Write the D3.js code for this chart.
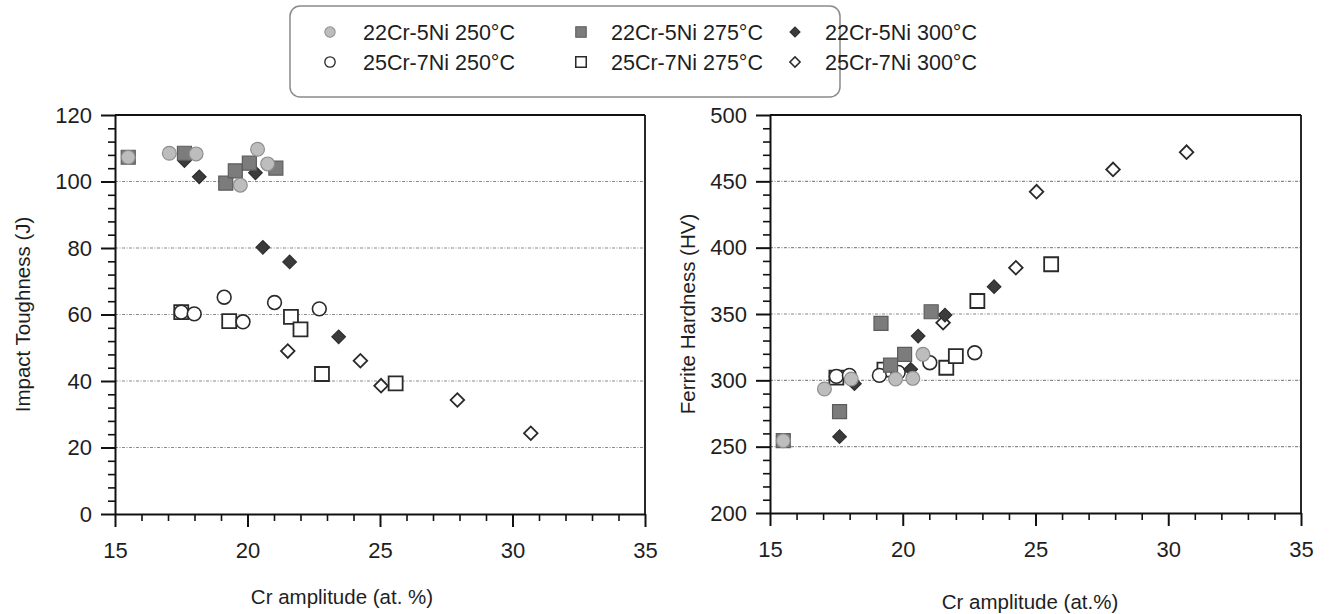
<!DOCTYPE html>
<html><head><meta charset="utf-8">
<script src="https://cdn.jsdelivr.net/npm/d3@7"></script>
<style>
body{margin:0;background:#fff}
text{font-family:"Liberation Sans",Arial,Helvetica,sans-serif;fill:#1e1e1e}
</style>
</head><body>
<svg id="chart" width="1329" height="614"></svg>
<script>
// ---------- data ----------
const seriesNames = ["22Cr-5Ni 250°C","22Cr-5Ni 275°C","22Cr-5Ni 300°C","25Cr-7Ni 250°C","25Cr-7Ni 275°C","25Cr-7Ni 300°C"];

const crA_22_250 = [15.5, 17.05, 18.06, 19.73, 20.38, 20.76];
const imp_22_250 = [107.3, 108.5, 108.3, 98.9, 109.7, 105.3];
const hv_22_250  = [254.5, 293.5, 301.0, 301.0, 301.5, 319.6];

const crA_22_275 = [15.5, 17.62, 19.18, 19.54, 20.07, 21.07];
const imp_22_275 = [107.3, 108.5, 99.5, 103.2, 105.5, 104.0];
const hv_22_275  = [254.5, 276.4, 343.0, 311.4, 319.6, 351.7];

const crA_22_300 = [17.62, 18.18, 20.30, 20.58, 21.59, 23.44];
const imp_22_300 = [106.3, 101.4, 102.6, 80.2, 75.8, 53.3];
const hv_22_300  = [257.5, 297.5, 308.3, 333.4, 349.2, 370.6];

const crA_25_250 = [17.5, 17.99, 19.12, 19.83, 21.02, 22.71];
const imp_25_250 = [60.7, 60.2, 65.2, 57.8, 63.6, 61.7];
const hv_25_250  = [303.0, 303.7, 303.7, 306.0, 313.3, 320.8];

const crA_25_275 = [17.5, 19.31, 21.64, 22.0, 22.81, 25.59];
const imp_25_275 = [60.7, 58.0, 59.3, 55.5, 42.1, 39.3];
const hv_25_275  = [302.0, 308.0, 309.5, 318.3, 359.8, 387.5];

const crA_25_300 = [21.52, 24.26, 25.04, 27.92, 30.69];
const imp_25_300 = [49.0, 46.1, 38.6, 34.3, 24.3];
const hv_25_300  = [343.4, 384.9, 442.2, 459.0, 472.0];

const xTicks = [15, 20, 25, 30, 35];
const yTicksImpact = [0, 20, 40, 60, 80, 100, 120];
const yTicksHardness = [200, 250, 300, 350, 400, 450, 500];

// ---------- styles ----------
const styles = [
  {shape:"circle", fill:"#bdbdbd", stroke:"#8e8e8e", sw:1.2},
  {shape:"square", fill:"#7c7c7c", stroke:"#5c5c5c", sw:1.2},
  {shape:"diamond", fill:"#3b3b3b", stroke:"#2e2e2e", sw:1.2},
  {shape:"circle", fill:"#ffffff", stroke:"#2a2a2a", sw:1.6},
  {shape:"square", fill:"#ffffff", stroke:"#2a2a2a", sw:1.8},
  {shape:"diamond", fill:"#ffffff", stroke:"#2a2a2a", sw:1.8}
];
const series = [
  {x:crA_22_250, a:imp_22_250, b:hv_22_250},
  {x:crA_22_275, a:imp_22_275, b:hv_22_275},
  {x:crA_22_300, a:imp_22_300, b:hv_22_300},
  {x:crA_25_250, a:imp_25_250, b:hv_25_250},
  {x:crA_25_275, a:imp_25_275, b:hv_25_275},
  {x:crA_25_300, a:imp_25_300, b:hv_25_300}
];
const drawOrder = [5,4,3,2,1,0];

function symPath(shape, scale){
  if(shape==="circle") return d3.symbol(d3.symbolCircle, Math.PI*6.9*6.9*scale*scale)();
  if(shape==="square") return d3.symbol(d3.symbolSquare, 14*14*scale*scale)();
  return d3.symbol(d3.symbolSquare, 9.6*9.6*scale*scale)();
}

const svg = d3.select("#chart");

function panel(cfg){
  const g = svg.append("g");
  const x = d3.scaleLinear().domain([15,35]).range([cfg.left, cfg.right]);
  const y = d3.scaleLinear().domain(cfg.ydom).range([cfg.bottom, cfg.top]);

  // gridlines
  g.append("g").selectAll("line").data(cfg.yticks.slice(1,-1)).join("line")
    .attr("x1", cfg.left).attr("x2", cfg.right)
    .attr("y1", d=>y(d)).attr("y2", d=>y(d))
    .attr("stroke","#8a8a8a").attr("stroke-width",1.1).attr("stroke-dasharray","3,1.5,1,1.5");

  // frame top/right
  g.append("line").attr("x1",cfg.left).attr("x2",cfg.right).attr("y1",cfg.top).attr("y2",cfg.top)
    .attr("stroke","#111").attr("stroke-width",1.8);
  g.append("line").attr("x1",cfg.right).attr("x2",cfg.right).attr("y1",cfg.top).attr("y2",cfg.bottom)
    .attr("stroke","#111").attr("stroke-width",1.8);

  // minor ticks
  const minorX = d3.range(15,35.01,1).filter(v=>v%5!==0);
  g.append("g").attr("transform",`translate(0,${cfg.bottom})`)
    .call(d3.axisBottom(x).tickValues(minorX).tickSize(7).tickFormat("").tickSizeOuter(0))
    .call(s=>s.select(".domain").remove())
    .call(s=>s.selectAll("line").attr("stroke","#111").attr("stroke-width",1.6));
  const step = (cfg.ydom[1]-cfg.ydom[0])/30;
  const minorY = d3.range(0,31).map(i=>cfg.ydom[0]+i*step).filter((v,i)=>i%5!==0);
  g.append("g").attr("transform",`translate(${cfg.left},0)`)
    .call(d3.axisLeft(y).tickValues(minorY).tickSize(7).tickFormat("").tickSizeOuter(0))
    .call(s=>s.select(".domain").remove())
    .call(s=>s.selectAll("line").attr("stroke","#111").attr("stroke-width",1.6));

  // major axes
  const ax = g.append("g").attr("transform",`translate(0,${cfg.bottom})`)
    .call(d3.axisBottom(x).tickValues(xTicks).tickSize(13).tickPadding(15).tickSizeOuter(0));
  ax.select(".domain").attr("stroke","#111").attr("stroke-width",2);
  ax.selectAll("line").attr("stroke","#111").attr("stroke-width",2);
  ax.selectAll("text").attr("font-size",22).attr("fill","#1e1e1e");

  const ay = g.append("g").attr("transform",`translate(${cfg.left},0)`)
    .call(d3.axisLeft(y).tickValues(cfg.yticks).tickSize(14).tickPadding(9).tickSizeOuter(0));
  ay.select(".domain").attr("stroke","#111").attr("stroke-width",2);
  ay.selectAll("line").attr("stroke","#111").attr("stroke-width",2);
  ay.selectAll("text").attr("font-size",22).attr("fill","#1e1e1e");

  // titles
  g.append("text").attr("x",cfg.xtX).attr("y",cfg.xtY).attr("text-anchor","middle")
    .attr("font-size",20.5).text(cfg.xtitle);
  g.append("text").attr("transform",`translate(${cfg.ytX},${(cfg.top+cfg.bottom)/2}) rotate(-90)`)
    .attr("text-anchor","middle").attr("dy","0.35em").attr("font-size",20.5).text(cfg.ytitle);

  // points
  drawOrder.forEach(si=>{
    const st = styles[si], s = series[si];
    const vals = s.x.map((xv,i)=>({x:xv, y:s[cfg.key][i]}));
    g.append("g").selectAll("path").data(vals).join("path")
      .attr("d", symPath(st.shape,1))
      .attr("transform", d=>`translate(${x(d.x)},${y(d.y)})${st.shape==="diamond"?" rotate(45)":""}`)
      .attr("fill", st.fill).attr("stroke", st.stroke).attr("stroke-width", st.sw);
  });
}

panel({left:115,right:645,top:115,bottom:514,ydom:[0,120],yticks:yTicksImpact,key:"a",
  xtitle:"Cr amplitude (at. %)", xtX:342, xtY:604, ytitle:"Impact Toughness (J)", ytX:23});
panel({left:770,right:1301,top:115,bottom:513,ydom:[200,500],yticks:yTicksHardness,key:"b",
  xtitle:"Cr amplitude (at.%)", xtX:1030, xtY:609, ytitle:"Ferrite Hardness (HV)", ytX:688});

// ---------- legend ----------
const lg = svg.append("g");
lg.append("rect").attr("x",290).attr("y",6).attr("width",550).attr("height",91).attr("rx",10)
  .attr("fill","#fff").attr("stroke","#8a8a8a").attr("stroke-width",1.5);
const colMarker = [330, 581, 795];
const colText = [363, 611, 825];
const rowY = [32, 62];
seriesNames.forEach((name,i)=>{
  const r = Math.floor(i/3), c = i%3, st = styles[i];
  lg.append("path").attr("d", symPath(st.shape,0.75))
    .attr("transform",`translate(${colMarker[c]},${rowY[r]})${st.shape==="diamond"?" rotate(45)":""}`)
    .attr("fill",st.fill).attr("stroke",st.stroke).attr("stroke-width",st.sw*0.85);
  lg.append("text").attr("x",colText[c]).attr("y",rowY[r]).attr("dy","0.36em")
    .attr("font-size",21.5).text(name);
});
</script>
</body></html>
